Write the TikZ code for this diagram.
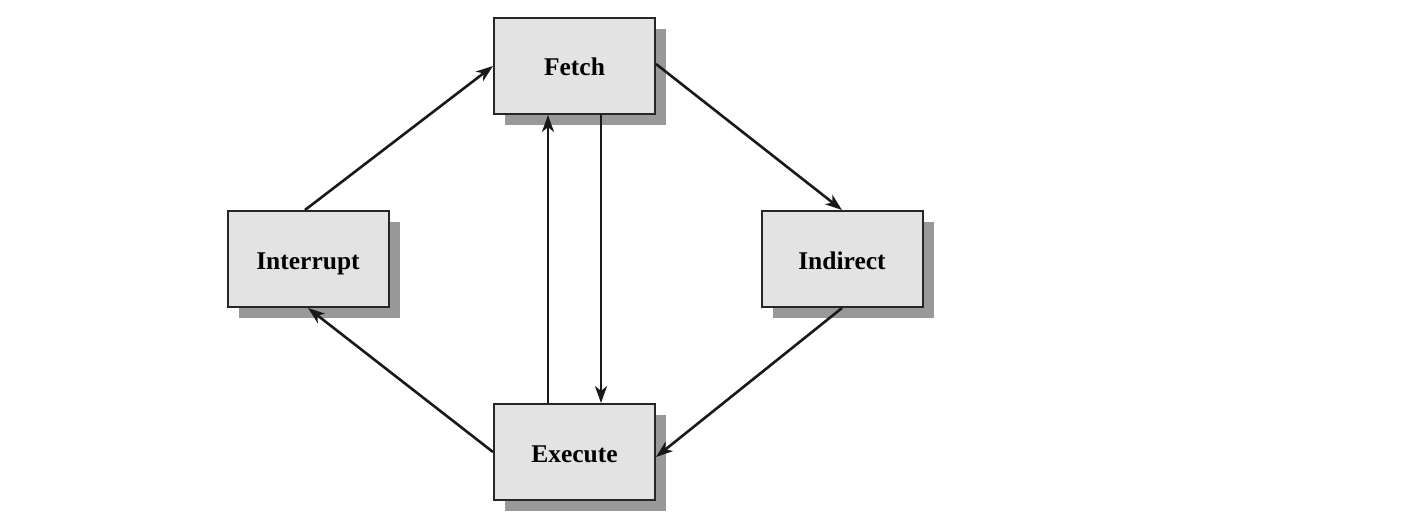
\documentclass[tikz,border=0pt]{standalone}
\usepackage{fontspec}
\setmainfont{Liberation Serif}
\usetikzlibrary{shadows,arrows.meta}
\begin{document}
\begin{tikzpicture}[x=1pt,y=-1pt,
  stage/.style={draw=black!85, line width=2pt, fill=black!11,
    minimum width=161pt, minimum height=96pt, inner sep=0pt,
    text height=20pt, text depth=0pt,
    font=\fontsize{25.5}{30}\selectfont\bfseries,
    general shadow={fill=black!40, shadow xshift=11pt, shadow yshift=-11pt}},
  flow/.style={line width=2.6pt, draw=black!90, -{Stealth[length=17pt,width=12pt,inset=5pt]}}]
\useasboundingbox (0,0) rectangle (1406,516);
\node[stage] (fetch) at (574.5,66) {Fetch};
\node[stage] (int) at (308,259) {Interrupt};
\node[stage] (ind) at (842,259) {Indirect};
\node[stage] (exe) at (574.5,452) {Execute};
\draw[flow] ([xshift=-3pt]int.north) -- (fetch.west);
\draw[flow] ([yshift=2pt]fetch.east) -- (ind.north);
\draw[flow] (ind.south) -- ([yshift=-5pt]exe.east);
\draw[flow] (exe.west) -- (int.south);
\draw[flow] ([xshift=-26.5pt]exe.north) -- ([xshift=-26.5pt]fetch.south);
\draw[flow] ([xshift=26.5pt]fetch.south) -- ([xshift=26.5pt]exe.north);
\end{tikzpicture}
\end{document}
